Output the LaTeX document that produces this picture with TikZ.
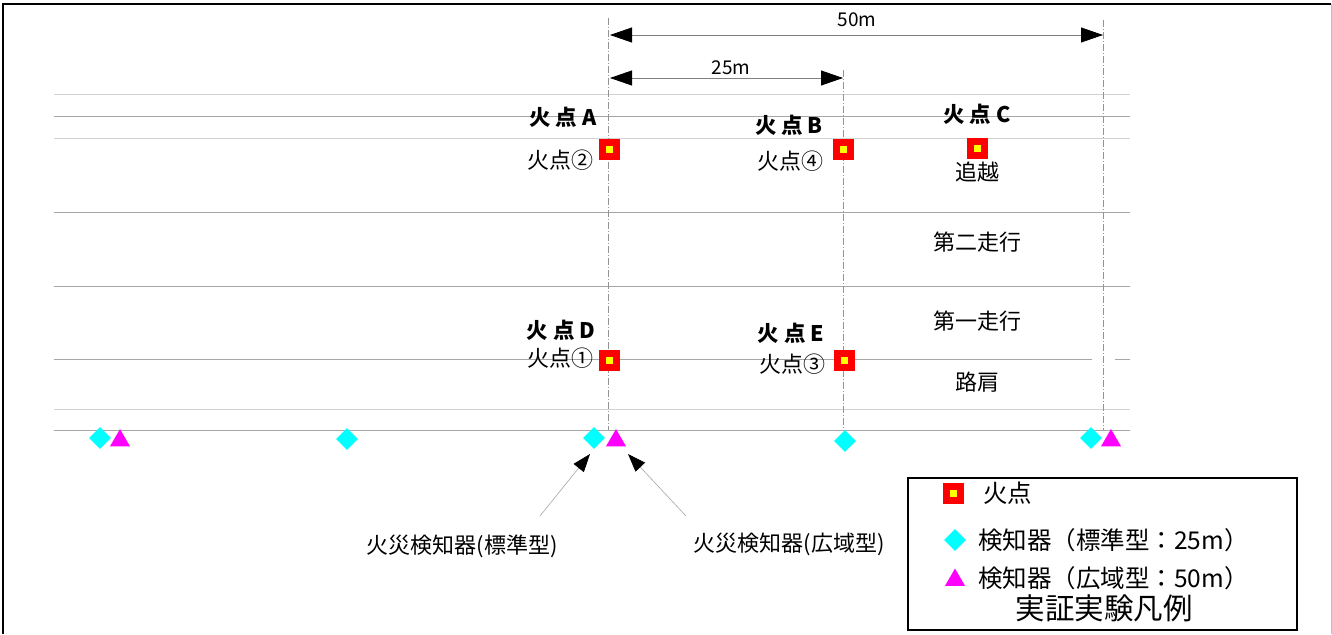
\documentclass[tikz,border=0pt]{standalone}
\usepackage{fontspec}
\setmainfont{Noto Sans CJK JP}
\usetikzlibrary{arrows.meta,shapes.geometric}
\definecolor{detcyan}{RGB}{0,255,255}
\definecolor{detmag}{RGB}{255,0,255}
\definecolor{firered}{RGB}{255,0,0}
\definecolor{fireyel}{RGB}{255,255,0}
\begin{document}
\begin{tikzpicture}[x=1pt,y=-1pt,
  road/.style={draw=gray!70, line width=0.9pt},
  roadlight/.style={draw=gray!35, line width=0.9pt},
  guide/.style={draw=gray!85, line width=0.6pt, dash pattern=on 7pt off 2pt on 1pt off 2pt},
  dimline/.style={draw=gray, line width=0.8pt, {Triangle[length=22pt,width=15pt,color=black]}-{Triangle[length=22pt,width=15pt,color=black]}},
  ann/.style={draw=gray!70, line width=0.6pt, -{Triangle[length=18pt,width=13pt,color=black]}},
  fire/.style={fill=firered, minimum size=21pt, inner sep=0pt,
    path picture={\fill[fireyel] ([shift={(-3.5pt,-3.5pt)}]path picture bounding box.center) rectangle ([shift={(3.5pt,3.5pt)}]path picture bounding box.center);}},
  det/.style={diamond, fill=detcyan, inner sep=0pt, minimum size=22pt},
  wide/.style={regular polygon, regular polygon sides=3, fill=detmag, inner sep=0pt, minimum size=23pt},
  lbl/.style={inner sep=0pt, font=\fontsize{22}{24}\selectfont},
  fp/.style={inner sep=0pt, font=\fontsize{21.5}{24}\selectfont\bfseries},
  dimlbl/.style={inner sep=0pt, font=\fontsize{19}{21}\selectfont},
  leg/.style={inner sep=0pt, anchor=west, font=\fontsize{24.5}{26}\selectfont},
  legtitle/.style={inner sep=0pt, font=\fontsize{29.5}{31}\selectfont}
]
\useasboundingbox (0,0) rectangle (1332,634);
% frame
\draw[black, line width=1.2pt] (3,634) -- (3,4) -- (1331,4);
\draw[gray!50, line width=0.8pt] (1331,4) -- (1331,634);

% road lines
\draw[roadlight] (54,94) -- (1130,94);
\draw[road] (54,116) -- (1130,116);
\draw[roadlight] (54,138) -- (1130,138);
\draw[road] (54,212) -- (1130,212);
\draw[road] (54,286) -- (1130,286);
\draw[road] (54,359) -- (1092,359);
\draw[road] (1115,359) -- (1130,359);
\draw[roadlight] (54,409) -- (1130,409);
\draw[road] (54,430) -- (1130,430);

% guide lines
\coordinate (gAt) at (608,18);  \coordinate (gAb) at (608,430);
\coordinate (gBt) at (843,70);  \coordinate (gBb) at (843,430);
\coordinate (gCt) at (1103,20); \coordinate (gCb) at (1103,430);
\draw[guide] (gAt) -- (gAb);
\draw[guide] (gBt) -- (gBb);
\draw[guide] (gCt) -- (gCb);

% dimensions
\coordinate (d50a) at (610,35); \coordinate (d50b) at (1103,35);
\coordinate (d25a) at (610,78); \coordinate (d25b) at (843,78);
\draw[dimline] (d50a) -- (d50b);
\draw[dimline] (d25a) -- (d25b);
\node[dimlbl] (l50) at (857,20) {50m};
\node[dimlbl] (l25) at (731,68) {25m};

% fire points
\node[fire] (fA) at (609,149) {};
\node[fire] (fB) at (843,149) {};
\node[fire] (fC) at (977,148) {};
\node[fire] (fD) at (609,360) {};
\node[fire] (fE) at (844,360) {};

\node[fp] (tA) at (563,117) {火 点 A};
\node[lbl] (nA) at (560,160) {火点②};
\node[fp] (tB) at (789,125) {火 点 B};
\node[lbl] (nB) at (790,161) {火点④};
\node[fp] (tC) at (977,114) {火 点 C};
\node[fp] (tD) at (561,330) {火 点 D};
\node[lbl] (nD) at (560,358) {火点①};
\node[fp] (tE) at (791,333) {火 点 E};
\node[lbl] (nE) at (792,364) {火点③};

\node[lbl] (lane1) at (977,172) {追越};
\node[lbl] (lane2) at (977,242) {第二走行};
\node[lbl] (lane3) at (977,321) {第一走行};
\node[lbl] (lane4) at (977,382) {路肩};

% detectors
\node[det] (s1) at (100,438) {};
\node[det] (s2) at (347,439) {};
\node[det] (s3) at (594,438) {};
\node[det] (s4) at (845,441) {};
\node[det] (s5) at (1091,438) {};
\node[wide] (w1) at (120,440.5) {};
\node[wide] (w2) at (616,440.5) {};
\node[wide] (w3) at (1111,440.5) {};

% annotations
\coordinate (aS) at (540,516);
\coordinate (aW) at (686,516);
\draw[ann] (aS) -- (590,454);
\draw[ann] (aW) -- (628,454);
\node[lbl] (cS) at (462,546) {火災検知器(標準型)};
\node[lbl] (cW) at (789,544) {火災検知器(広域型)};

% legend
\draw[black, line width=2.5pt] (908,478) rectangle (1297,630);
\node[fire] (kF) at (953,493) {};
\node[leg] (kFt) at (983,493) {火点};
\node[det] (kS) at (955,540) {};
\node[leg] (kSt) at (978,540) {検知器（標準型：25m）};
\node[wide] (kW) at (955,580) {};
\node[leg] (kWt) at (978,578) {検知器（広域型：50m）};
\node[legtitle] (kT) at (1104,608) {実証実験凡例};
\end{tikzpicture}
\end{document}
